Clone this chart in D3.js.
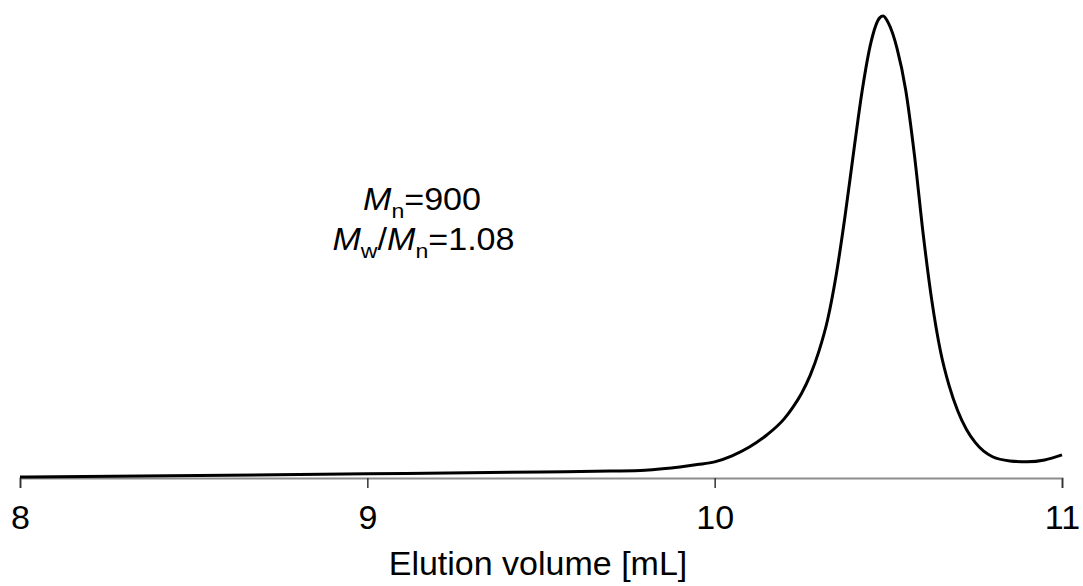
<!DOCTYPE html>
<html>
<head>
<meta charset="utf-8">
<script src="https://cdn.jsdelivr.net/npm/d3@7"></script>
<style>
  body { margin: 0; background: #fff; }
  svg { display: block; }
  text { font-family: "Liberation Sans", Arial, sans-serif; fill: #000; }
</style>
</head>
<body>
<div id="chart"></div>
<script>
// elution volume (mL) and normalised detector signal
const volumes = [8.00, 9.00, 9.50, 9.70, 9.80, 9.85, 9.90, 9.95, 10.00, 10.05, 10.10, 10.15, 10.20,
  10.225, 10.25, 10.275, 10.30, 10.325, 10.35, 10.375, 10.40, 10.425, 10.45, 10.475,
  10.485, 10.50, 10.525, 10.55, 10.575, 10.60, 10.625, 10.65, 10.675, 10.70,
  10.725, 10.75, 10.80, 10.85, 10.90, 10.95, 11.00];
const signal = [0.002, 0.009, 0.013, 0.015, 0.017, 0.020, 0.024, 0.029, 0.035, 0.048, 0.067, 0.093, 0.128,
  0.153, 0.183, 0.222, 0.274, 0.342, 0.44, 0.565, 0.705, 0.84, 0.943, 0.996,
  1.000, 0.985, 0.93, 0.84, 0.70, 0.53, 0.385, 0.275, 0.20, 0.145,
  0.105, 0.077, 0.046, 0.037, 0.035, 0.039, 0.050];
const tickValues = [8, 9, 10, 11];
const xTitle = 'Elution volume [mL]';

const width = 1083, height = 586;
const margin = { top: 16, right: 21, bottom: 108, left: 20 };

const svg = d3.select('#chart').append('svg')
  .attr('width', width)
  .attr('height', height);

const x = d3.scaleLinear().domain([8, 11]).range([margin.left, width - margin.right]);
const y = d3.scaleLinear().domain([0, 1]).range([height - margin.bottom, margin.top]);

// x axis
const axis = svg.append('g')
  .attr('transform', `translate(0,${height - margin.bottom})`)
  .call(d3.axisBottom(x).tickValues(tickValues).tickFormat(d3.format('d')).tickSize(10).tickPadding(17));
axis.select('.domain').attr('stroke', '#8c8c8c').attr('stroke-width', 2);
axis.selectAll('.tick line').attr('stroke', '#333').attr('stroke-width', 1.5);
axis.selectAll('.tick text').style('font-size', '34px').attr('fill', '#000');

svg.append('text')
  .attr('x', 538)
  .attr('y', 575)
  .attr('text-anchor', 'middle')
  .style('font-size', '34px')
  .text(xTitle);

// trace
const data = volumes.map((v, i) => ({ v: v, s: signal[i] }));
const line = d3.line()
  .x(d => x(d.v))
  .y(d => y(d.s))
  .curve(d3.curveMonotoneX);

svg.append('path')
  .datum(data)
  .attr('fill', 'none')
  .attr('stroke', '#000')
  .attr('stroke-width', 3)
  .attr('d', line);

// annotation (a touch wider than tall, like the original)
const note = svg.append('g').style('font-size', '31px');
const l1 = note.append('g').attr('transform', 'translate(422,210) scale(1.1,1)')
  .append('text').attr('text-anchor', 'middle');
l1.append('tspan').style('font-style', 'italic').text('M');
l1.append('tspan').attr('dy', 8).style('font-size', '21px').text('n');
l1.append('tspan').attr('dy', -8).text('=900');

const l2 = note.append('g').attr('transform', 'translate(423.5,250) scale(1.1,1)')
  .append('text').attr('text-anchor', 'middle');
l2.append('tspan').style('font-style', 'italic').text('M');
l2.append('tspan').attr('dy', 8).style('font-size', '21px').text('w');
l2.append('tspan').attr('dy', -8).text('/');
l2.append('tspan').style('font-style', 'italic').text('M');
l2.append('tspan').attr('dy', 8).style('font-size', '21px').text('n');
l2.append('tspan').attr('dy', -8).text('=1.08');
</script>
</body>
</html>
